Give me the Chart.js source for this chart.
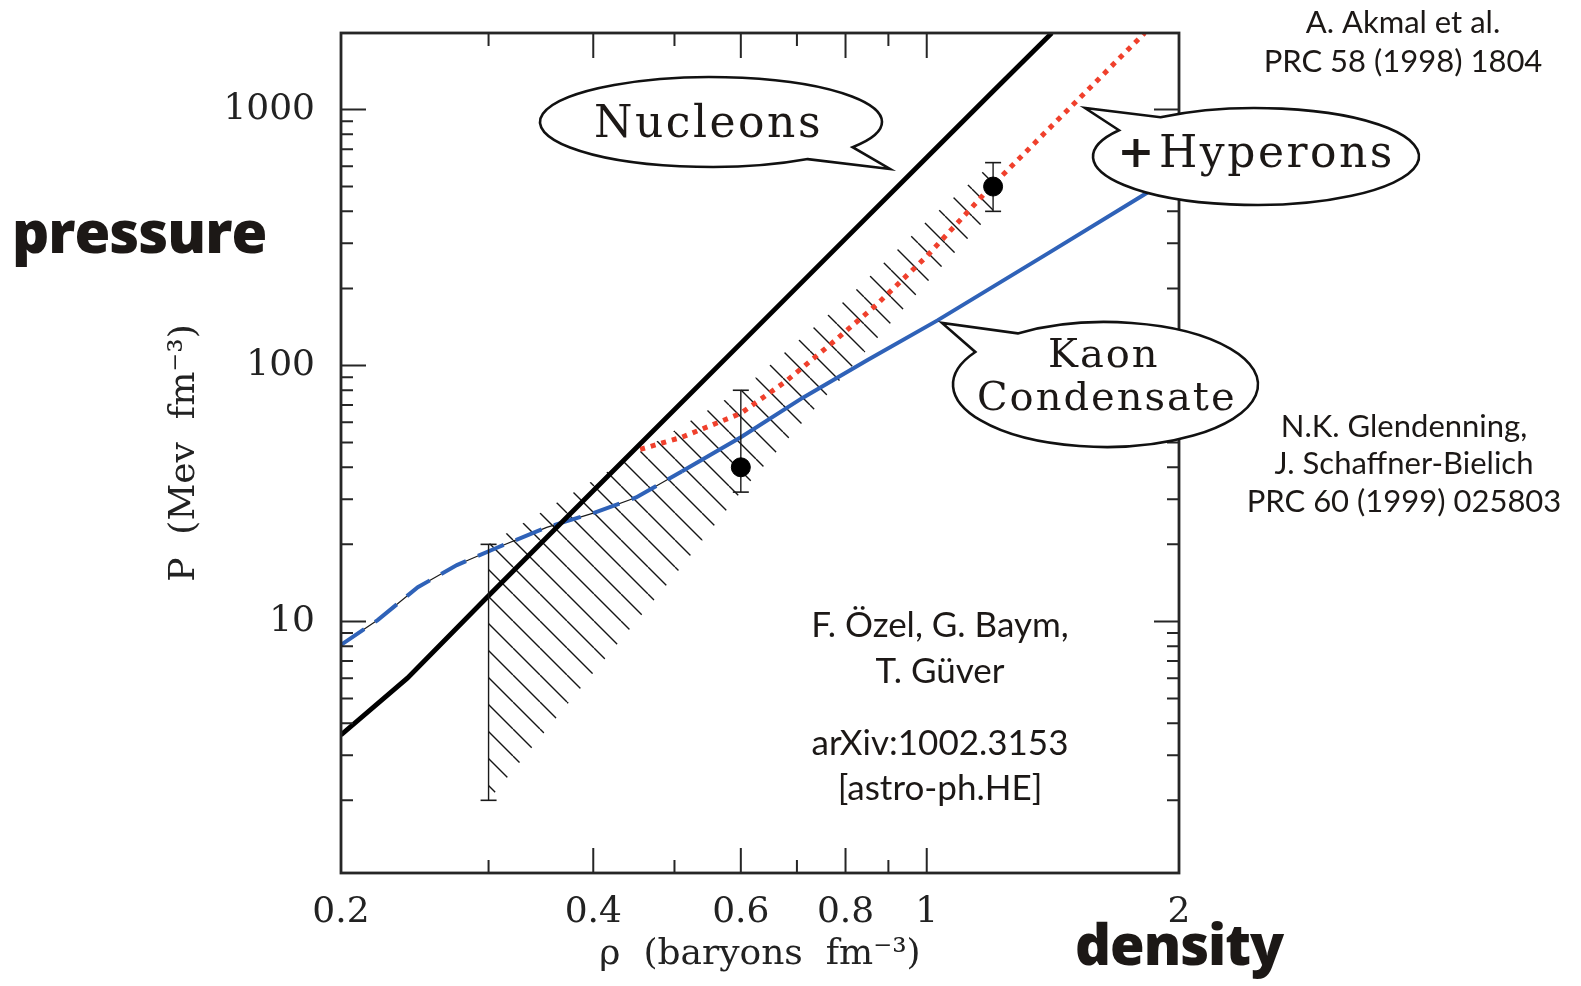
<!DOCTYPE html>
<html>
<head>
<meta charset="utf-8">
<script src="https://cdn.jsdelivr.net/npm/chart.js@4.4.0/dist/chart.umd.min.js"></script>
<style>
  html, body { margin: 0; padding: 0; background: #fff; }
  #wrap { width: 1581px; height: 986px; }
</style>
</head>
<body>
<div id="wrap"><canvas id="eos" width="1581" height="986"></canvas></div>
<script>
// density in baryons fm^-3, pressure in MeV fm^-3
const nucleonRho = [0.2, 0.24, 0.3, 0.4, 0.6, 0.8, 1.0, 1.2, 1.41];
const nucleonP   = [3.6, 6.0, 12.6, 32.4, 122, 313, 649, 1178, 1990];

const hyperonRho = [0.455, 0.51, 0.6, 0.68, 0.77, 0.87, 1.0, 1.19, 1.82];
const hyperonP   = [47, 52.4, 65, 87, 122, 172, 267, 495, 1990];

// kaon condensate: dashed at low density, solid above
const kaonLowRho = [0.2, 0.221, 0.247, 0.275, 0.307, 0.352, 0.4, 0.45, 0.51];
const kaonLowP   = [8.1, 10.1, 13.6, 16.6, 19.4, 23.3, 26.5, 30.5, 38.5];
const kaonRho    = [0.51, 0.6, 0.71, 0.85, 1.03, 1.4, 1.81, 2.0];
const kaonP      = [38.5, 52.4, 74.5, 105, 150, 276, 461, 565];

// hatched band allowed by the measurements
const bandRho   = [0.3, 0.4, 0.5, 0.6, 0.8, 1.0, 1.2];
const bandUpper = [20, 35.5, 55.7, 80, 180, 366, 620];
const bandLower = [2, 6.3, 15.1, 32, 92.7, 211, 400];

// measured points with error bars; the 0.3 bar has no central value
const obsRho  = [0.6, 1.2];
const obsP    = [40, 500];
const barRho  = [0.3, 0.6, 1.2];
const barLow  = [2, 32, 400];
const barHigh = [20, 80, 620];

const xMajorTicks = [0.2, 0.4, 0.6, 0.8, 1, 2];
const xMinorTicks = [0.3, 0.5, 0.7, 0.9];
const yMajorTicks = [10, 100, 1000];
const yMinorTicks = [2, 3, 4, 5, 6, 7, 8, 9, 20, 30, 40, 50, 60, 70, 80, 90,
                     200, 300, 400, 500, 600, 700, 800, 900];

const toXY = (xs, ys) => xs.map((x, i) => ({ x, y: ys[i] }));

const BLUE = '#2f62b8';
const RED = '#f0402c';
const INK = '#1a1a1a';
const SERIF = '"DejaVu Serif", serif';
const SANS = 'Lato, "Open Sans", sans-serif';
const HEAVY = '"Open Sans", Lato, sans-serif';

function hatchPattern() {
  const s = 27;
  const c = document.createElement('canvas');
  c.width = s; c.height = s;
  const g = c.getContext('2d');
  g.strokeStyle = '#151515';
  g.lineWidth = 1.4;
  g.beginPath();
  // one 45deg stroke per tile plus the neighbours so the seams line up
  for (const d of [-s, 0, s]) { g.moveTo(d, 0); g.lineTo(d + s, s); }
  g.stroke();
  return g.createPattern(c, 'repeat');
}

const errorBars = barRho.map((r, i) => ({
  type: 'line',
  data: [{ x: r, y: barLow[i] }, { x: r, y: barHigh[i] }],
  borderColor: INK,
  borderWidth: 1.4,
  pointStyle: 'line',
  pointRadius: 8,
  pointBorderWidth: 1.6,
  pointBorderColor: INK,
  order: 1
}));

const lineBase = { type: 'line', pointRadius: 0, tension: 0, fill: false };

const datasets = [
  {
    type: 'scatter',
    data: toXY(obsRho, obsP),
    pointRadius: 9.5,
    backgroundColor: '#000',
    borderColor: '#000',
    order: 0
  },
  ...errorBars,
  { ...lineBase, data: toXY(nucleonRho, nucleonP), borderColor: '#000', borderWidth: 4.8, order: 2 },
  { ...lineBase, data: toXY(hyperonRho, hyperonP), borderColor: RED, borderWidth: 5,
    borderDash: [5, 6], borderCapStyle: 'butt', order: 3 },
  { ...lineBase, data: toXY(kaonRho, kaonP), borderColor: BLUE, borderWidth: 4, order: 4 },
  { ...lineBase, data: toXY(kaonLowRho, kaonLowP), borderColor: BLUE, borderWidth: 4,
    borderDash: [28, 13], order: 4 },
  { ...lineBase, data: toXY(kaonLowRho, kaonLowP), borderColor: INK, borderWidth: 1.2, order: 5 },
  { ...lineBase, data: toXY(bandRho, bandUpper), borderWidth: 0, borderColor: 'rgba(0,0,0,0)',
    fill: '+1', backgroundColor: hatchPattern(), order: 6 },
  { ...lineBase, data: toXY(bandRho, bandLower), borderWidth: 0, borderColor: 'rgba(0,0,0,0)', order: 7 }
];

// speech bubbles: ellipse arc from `from` to `to`, then out to the tail tip
const bubbles = [
  { cx: 711, cy: 122, rx: 171, ry: 45, from: 0.969, to: 0.595 + 2 * Math.PI, tip: [890, 169] },
  { cx: 1256, cy: 156.5, rx: 163, ry: 48.5, from: -2.197, to: 3.714, tip: [1085, 108] },
  { cx: 1105.5, cy: 384.5, rx: 152.5, ry: 62.5, from: -2.184, to: 3.689, tip: [942, 323] }
];

const notes = [
  { text: 'Nucleons', x: 594, y: 137, font: `44px ${SERIF}`, align: 'left', spacing: '2.5px' },
  { text: '+', x: 1136, y: 167, font: `bold 44px ${SERIF}` },
  { text: 'Hyperons', x: 1159, y: 167, font: `44px ${SERIF}`, align: 'left', spacing: '2.5px' },
  { text: 'Kaon', x: 1048, y: 367, font: `40px ${SERIF}`, align: 'left', spacing: '2px' },
  { text: 'Condensate', x: 977, y: 410, font: `40px ${SERIF}`, align: 'left', spacing: '2px' },
  { text: 'A. Akmal et al.', x: 1403, y: 33, font: `31px ${SANS}` },
  { text: 'PRC 58 (1998) 1804', x: 1403, y: 72, font: `31px ${SANS}` },
  { text: 'N.K. Glendenning,', x: 1404, y: 437, font: `31px ${SANS}` },
  { text: 'J. Schaffner-Bielich', x: 1404, y: 474, font: `31px ${SANS}` },
  { text: 'PRC 60 (1999) 025803', x: 1404, y: 512, font: `31px ${SANS}` },
  { text: 'F. Özel, G. Baym,', x: 940, y: 637, font: `35px ${SANS}` },
  { text: 'T. Güver', x: 940, y: 683, font: `35px ${SANS}` },
  { text: 'arXiv:1002.3153', x: 940, y: 755, font: `35px ${SANS}` },
  { text: '[astro-ph.HE]', x: 940, y: 800, font: `35px ${SANS}` },
  { text: 'pressure', x: 12, y: 253, font: `800 58px ${HEAVY}`, align: 'left', spacing: '-1px' },
  { text: 'density', x: 1075, y: 965, font: `800 56px ${HEAVY}`, align: 'left', spacing: '-1px' }
];

const frameAndNotes = {
  id: 'frameAndNotes',
  afterDatasetsDraw(chart) {
    const { ctx, chartArea: { left, right, top, bottom }, scales: { x, y } } = chart;
    ctx.save();
    ctx.strokeStyle = '#262626';
    ctx.lineWidth = 2;
    ctx.beginPath();
    const xMark = (v, len) => {
      const px = x.getPixelForValue(v);
      ctx.moveTo(px, bottom); ctx.lineTo(px, bottom - len);
      ctx.moveTo(px, top); ctx.lineTo(px, top + len);
    };
    const yMark = (v, len) => {
      const py = y.getPixelForValue(v);
      ctx.moveTo(left, py); ctx.lineTo(left + len, py);
      ctx.moveTo(right, py); ctx.lineTo(right - len, py);
    };
    xMajorTicks.forEach(v => xMark(v, 25));
    xMinorTicks.forEach(v => xMark(v, 13));
    yMajorTicks.forEach(v => yMark(v, 25));
    yMinorTicks.forEach(v => yMark(v, 12));
    ctx.stroke();
    ctx.lineWidth = 2.8;
    ctx.strokeRect(left, top, right - left, bottom - top);
    ctx.restore();
  },
  afterDraw(chart) {
    const { ctx } = chart;
    ctx.save();
    bubbles.forEach(b => {
      ctx.beginPath();
      ctx.ellipse(b.cx, b.cy, b.rx, b.ry, 0, b.from, b.to);
      ctx.lineTo(b.tip[0], b.tip[1]);
      ctx.closePath();
      ctx.fillStyle = '#fff';
      ctx.fill();
      ctx.lineWidth = 2.6;
      ctx.lineJoin = 'miter';
      ctx.strokeStyle = '#111';
      ctx.stroke();
    });
    ctx.fillStyle = '#1c1816';
    ctx.textBaseline = 'alphabetic';
    notes.forEach(n => {
      ctx.font = n.font;
      ctx.letterSpacing = n.spacing || '0px';
      ctx.textAlign = n.align || 'center';
      ctx.fillText(n.text, n.x, n.y);
    });
    ctx.restore();
  }
};

const tickFont = { family: SERIF, size: 36 };

new Chart(document.getElementById('eos'), {
  data: { datasets },
  options: {
    responsive: false,
    animation: false,
    events: [],
    layout: { padding: { left: 0, top: 33, right: 402, bottom: 0 } },
    plugins: { legend: { display: false }, tooltip: { enabled: false } },
    scales: {
      x: {
        type: 'logarithmic',
        min: 0.2,
        max: 2,
        afterBuildTicks: s => { s.ticks = xMajorTicks.map(v => ({ value: v })); },
        afterFit: s => { s.height = 113; s.paddingLeft = 0; s.paddingRight = 0; },
        grid: { display: false, drawTicks: false },
        border: { display: false },
        ticks: { font: tickFont, color: '#222', padding: 18, maxRotation: 0, autoSkip: false,
                 callback: v => String(v) },
        title: { display: true, text: 'ρ  (baryons  fm⁻³)', font: { family: SERIF, size: 36 },
                 color: '#222', padding: { top: 0, bottom: 10 } }
      },
      y: {
        type: 'logarithmic',
        min: 1.04,
        max: 1990,
        afterBuildTicks: s => { s.ticks = yMajorTicks.map(v => ({ value: v })); },
        afterFit: s => { s.width = 341; s.paddingTop = 0; s.paddingBottom = 0; },
        grid: { display: false, drawTicks: false },
        border: { display: false },
        ticks: { font: tickFont, color: '#222', padding: 26, autoSkip: false,
                 callback: v => String(v) },
        title: { display: true, text: 'P  (Mev  fm⁻³)', font: { family: SERIF, size: 36 },
                 color: '#222', padding: { top: 163, bottom: 0 } }
      }
    }
  },
  plugins: [frameAndNotes]
});
</script>
</body>
</html>
